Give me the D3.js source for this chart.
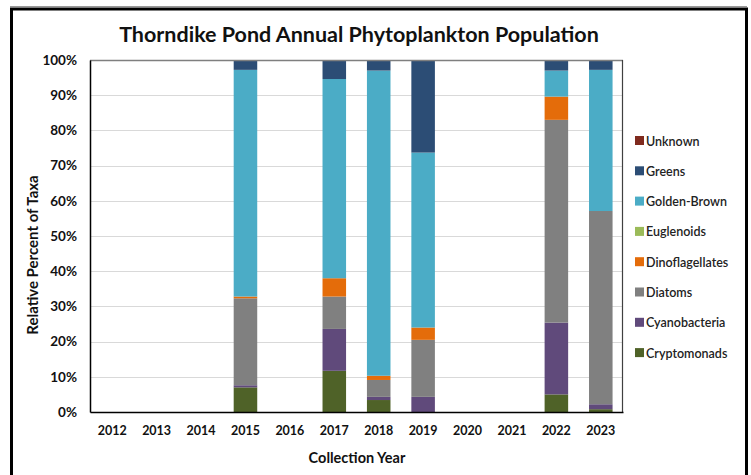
<!DOCTYPE html>
<html>
<head>
<meta charset="utf-8">
<script src="https://cdn.jsdelivr.net/npm/d3@7"></script>
<style>
  html, body { margin: 0; padding: 0; background: #fff; }
  svg { display: block; font-family: Lato, "Open Sans", sans-serif; }
</style>
</head>
<body>
<svg id="chart" width="751" height="475"></svg>
<script>
// Collection years on the x axis
const years = ["2012","2013","2014","2015","2016","2017","2018","2019","2020","2021","2022","2023"];

// Taxa, bottom of the stack first
const taxa = ["Cryptomonads","Cyanobacteria","Diatoms","Dinoflagellates","Euglenoids","Golden-Brown","Greens","Unknown"];
const taxaColors = ["#4f6228","#604a7b","#808080","#e46c0a","#9bbb59","#4bacc6","#2c4d75","#7f2a1e"];

// Relative percent of each taxon per year (0 where no sample)
const cryptomonads    = [0,0,0, 7.0,0,11.7, 3.4, 0.0,0,0, 5.0, 0.8];
const cyanobacteria   = [0,0,0, 0.6,0,11.9, 0.9, 4.3,0,0,20.4, 1.4];
const diatoms         = [0,0,0,24.7,0, 9.2, 4.8,16.2,0,0,57.6,54.9];
const dinoflagellates = [0,0,0, 0.5,0, 5.2, 1.2, 3.5,0,0, 6.6, 0.0];
const euglenoids      = [0,0,0, 0.0,0, 0.0, 0.0, 0.0,0,0, 0.0, 0.0];
const goldenBrown     = [0,0,0,64.4,0,56.6,86.7,49.7,0,0, 7.4,40.1];
const greens          = [0,0,0, 2.8,0, 5.4, 3.0,26.3,0,0, 3.0, 2.8];
const unknown         = [0,0,0, 0.0,0, 0.0, 0.0, 0.0,0,0, 0.0, 0.0];

const yTicks = [0,10,20,30,40,50,60,70,80,90,100];

const seriesValues = [cryptomonads, cyanobacteria, diatoms, dinoflagellates, euglenoids, goldenBrown, greens, unknown];
const rows = years.map((yr, i) => {
  const r = { year: yr };
  taxa.forEach((t, k) => { r[t] = seriesValues[k][i]; });
  return r;
});

const svg = d3.select("#chart");
const W = 751, H = 475;
const plot = { left: 90, right: 623, top: 60, bottom: 412 };

// Outer frame
svg.append("rect").attr("x", 0).attr("y", 0).attr("width", W).attr("height", H).attr("fill", "#fff");
svg.append("line").attr("x1", 10).attr("x2", 747).attr("y1", 6.5).attr("y2", 6.5)
  .attr("stroke", "#999").attr("stroke-width", 1);
svg.append("path")
  .attr("d", `M11.5,${H} V9 H746.5 V${H}`)
  .attr("fill", "none").attr("stroke", "#000").attr("stroke-width", 3);

const x = d3.scaleBand().domain(years).range([plot.left, plot.right]).paddingInner(0.47).paddingOuter(0.235);
const y = d3.scaleLinear().domain([0, 100]).range([plot.bottom, plot.top]);
const color = d3.scaleOrdinal().domain(taxa).range(taxaColors);

// Gridlines
svg.append("g")
  .selectAll("line").data(yTicks.filter(t => t > 0 && t < 100)).join("line")
  .attr("x1", plot.left).attr("x2", plot.right)
  .attr("y1", d => Math.round(y(d)) + 0.5).attr("y2", d => Math.round(y(d)) + 0.5)
  .attr("stroke", "#d9d9d9").attr("stroke-width", 1);

// Stacked bars
const stack = d3.stack().keys(taxa)(rows);
svg.append("g").selectAll("g").data(stack).join("g")
  .attr("fill", d => color(d.key))
  .selectAll("rect").data(d => d).join("rect")
  .attr("x", d => x(d.data.year))
  .attr("width", x.bandwidth())
  .attr("y", d => y(d[1]))
  .attr("height", d => Math.max(0, y(d[0]) - y(d[1])));

// Plot border
svg.append("line").attr("x1", plot.left).attr("x2", plot.right).attr("y1", plot.top + 0.5).attr("y2", plot.top + 0.5)
  .attr("stroke", "#7f7f7f").attr("stroke-width", 1.5);
svg.append("line").attr("x1", plot.right - 0.5).attr("x2", plot.right - 0.5).attr("y1", plot.top).attr("y2", plot.bottom)
  .attr("stroke", "#404040").attr("stroke-width", 1.2);

// Y axis
const yAxis = svg.append("g").attr("transform", `translate(${plot.left},0)`)
  .call(d3.axisLeft(y).tickValues(yTicks).tickFormat(d => d + "%").tickSize(0).tickPadding(13));
yAxis.select(".domain").attr("stroke", "#000").attr("stroke-width", 1.5);
yAxis.selectAll("text").attr("font-size", 13.5).attr("font-weight", "bold").attr("fill", "#111")
  .attr("font-family", "Lato, sans-serif");

// X axis
const xAxis = svg.append("g").attr("transform", `translate(0,${plot.bottom})`)
  .call(d3.axisBottom(x).tickSize(0).tickPadding(14));
xAxis.select(".domain").attr("stroke", "#000").attr("stroke-width", 1.5);
xAxis.selectAll("text").attr("font-size", 12.5).attr("font-weight", "bold").attr("fill", "#111")
  .attr("font-family", "Lato, sans-serif");

// Title and axis titles
svg.append("text").attr("x", 359).attr("y", 42).attr("text-anchor", "middle")
  .attr("font-size", 21.5).attr("font-weight", "bold").attr("fill", "#111")
  .text("Thorndike Pond Annual Phytoplankton Population");
svg.append("text").attr("x", 357).attr("y", 463).attr("text-anchor", "middle")
  .attr("font-size", 14.5).attr("font-weight", "bold").attr("fill", "#111")
  .text("Collection Year");
svg.append("text").attr("transform", "translate(38,255) rotate(-90)").attr("text-anchor", "middle")
  .attr("font-size", 15).attr("font-weight", "bold").attr("fill", "#111")
  .text("Relative Percent of Taxa");

// Legend, top entry is the last stacked taxon
const legendTaxa = taxa.slice().reverse();
const lg = svg.append("g").selectAll("g").data(legendTaxa).join("g")
  .attr("transform", (d, i) => `translate(635,${141 + i * 30.3})`);
lg.append("rect").attr("x", 0).attr("y", -5).attr("width", 9).attr("height", 9).attr("fill", d => color(d));
lg.append("text").attr("x", 11).attr("y", 4.5).attr("font-size", 12.5).attr("font-weight", "600")
  .attr("fill", "#222").text(d => d);
</script>
</body>
</html>
